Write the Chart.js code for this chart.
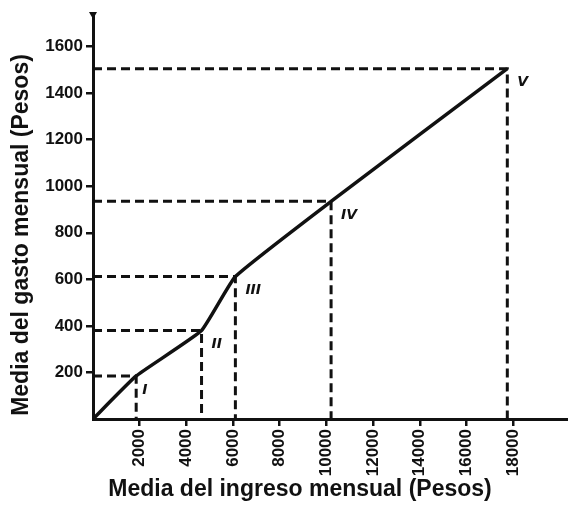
<!DOCTYPE html>
<html>
<head>
<meta charset="utf-8">
<script src="https://cdn.jsdelivr.net/npm/chart.js@4/dist/chart.umd.min.js"></script>
<style>
  body { margin: 0; background: #fff; }
  #wrap { width: 568px; height: 506px; position: relative; }
</style>
</head>
<body>
<div id="wrap"><canvas id="gastoChart"></canvas></div>
<script>
// ingreso medio (x) y gasto medio (y) por grupo
const groups = ['I', 'II', 'III', 'IV', 'V'];
const ingreso = [1850, 4650, 6100, 10200, 17750];
const gasto = [185, 380, 612, 935, 1505];

const xTicks = [2000, 4000, 6000, 8000, 10000, 12000, 14000, 16000, 18000];
const yTicks = [200, 400, 600, 800, 1000, 1200, 1400, 1600];

const xTitle = 'Media del ingreso mensual (Pesos)';
const yTitle = 'Media del gasto mensual (Pesos)';

const ink = '#111';

const curve = [{ x: 0, y: 0 }].concat(ingreso.map((v, i) => ({ x: v, y: gasto[i] })));

const guides = ingreso.map((v, i) => ({
    data: [{ x: 0, y: gasto[i] }, { x: v, y: gasto[i] }, { x: v, y: 0 }],
    borderColor: ink,
    borderWidth: 3,
    borderDash: [9, 5],
    pointRadius: 0,
    tension: 0,
    fill: false
}));

const extras = {
    id: 'extras',
    afterDatasetsDraw(chart) {
        const c = chart.ctx;
        const xs = chart.scales.x, ys = chart.scales.y;
        c.save();
        c.fillStyle = ink;
        c.font = 'italic bold 14px "DejaVu Sans"';
        c.textBaseline = 'top';
        groups.forEach((g, i) => {
            const dx = i === 0 ? 6 : 10;
            c.fillText(g, xs.getPixelForValue(ingreso[i]) + dx, ys.getPixelForValue(gasto[i]) + 7);
        });
        // flecha del eje y
        const x0 = xs.left, y0 = ys.top;
        c.beginPath();
        c.moveTo(x0 - 4, y0 - 2);
        c.lineTo(x0 + 4, y0 - 2);
        c.lineTo(x0, y0 + 5);
        c.closePath();
        c.fill();

        // titulos de ejes
        c.font = 'bold 23px "Liberation Sans"';
        c.textAlign = 'center';
        c.textBaseline = 'middle';
        c.fillText(xTitle, 300, 490);
        c.translate(22, 235);
        c.rotate(-Math.PI / 2);
        c.fillText(yTitle, 0, 0);
        c.restore();
    }
};

const tickFont = { family: 'Liberation Sans', weight: 'bold', size: 17 };

new Chart(document.getElementById('gastoChart'), {
    type: 'line',
    data: {
        datasets: [{
            data: curve,
            borderColor: ink,
            borderWidth: 3.5,
            pointRadius: 0,
            tension: 0.12,
            fill: false
        }].concat(guides)
    },
    options: {
        responsive: true,
        maintainAspectRatio: false,
        animation: false,
        layout: { padding: { top: 14, right: 0, left: 0, bottom: 0 } },
        plugins: { legend: { display: false }, tooltip: { enabled: false } },
        scales: {
            x: {
                type: 'linear',
                min: 0,
                max: 20350,
                afterBuildTicks: s => { s.ticks = xTicks.map(v => ({ value: v })); },
                afterFit: s => { s.height = 87; },
                ticks: {
                    color: ink,
                    font: tickFont,
                    minRotation: 90,
                    maxRotation: 90,
                    padding: 3,
                    callback: v => String(v)
                },
                grid: { drawOnChartArea: false, drawTicks: true, tickLength: 7, color: ink, lineWidth: 2.5 },
                border: { color: ink, width: 3 }
            },
            y: {
                type: 'linear',
                min: 0,
                max: 1740,
                afterBuildTicks: s => { s.ticks = yTicks.map(v => ({ value: v })); },
                afterFit: s => { s.width = 93; },
                ticks: {
                    color: ink,
                    font: tickFont,
                    padding: 3,
                    callback: v => String(v)
                },
                grid: { drawOnChartArea: false, drawTicks: true, tickLength: 7, color: ink, lineWidth: 2.5 },
                border: { color: ink, width: 3 }
            }
        }
    },
    plugins: [extras]
});
</script>
</body>
</html>
